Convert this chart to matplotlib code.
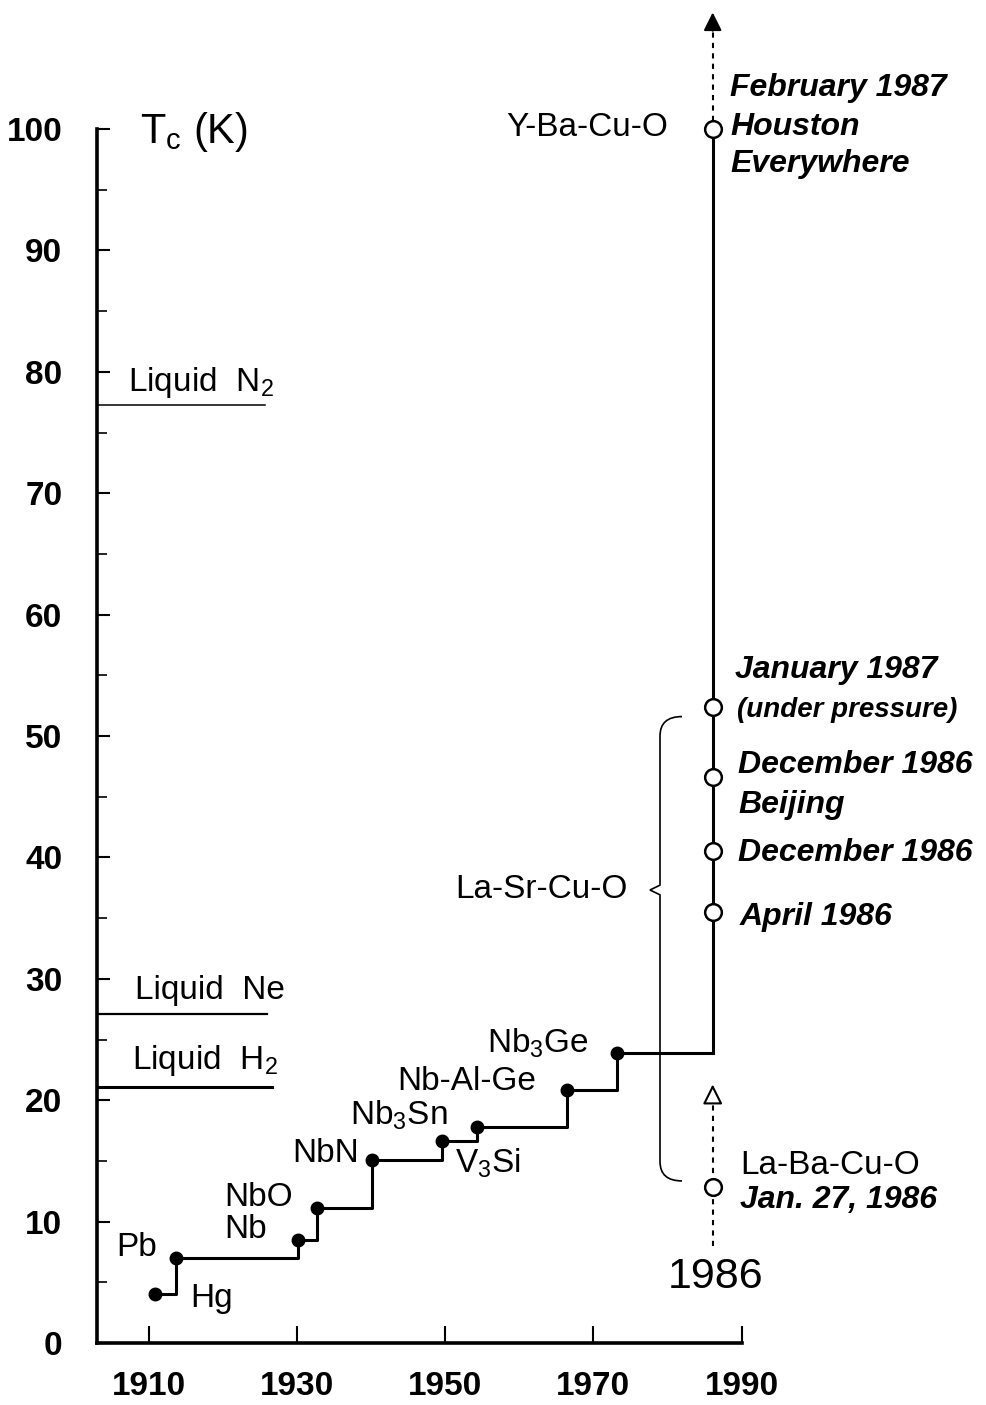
import matplotlib
matplotlib.use("Agg")
import matplotlib.pyplot as plt
from matplotlib.path import Path
from matplotlib.patches import PathPatch
from matplotlib.ticker import FixedLocator

plt.rcParams['font.family'] = ['Liberation Sans', 'DejaVu Sans']
plt.rcParams['mathtext.fontset'] = 'custom'
plt.rcParams['mathtext.rm'] = 'Liberation Sans'
plt.rcParams['mathtext.it'] = 'Liberation Sans:italic'

# ---------------- data ----------------
# conventional superconductors (filled dots, step line)
conv_names = ["Hg", "Pb", "Nb", "NbO", "NbN", "V$_\\mathregular{3}$Si",
              "Nb$_\\mathregular{3}$Sn", "Nb-Al-Ge", "Nb$_\\mathregular{3}$Ge"]
conv_years = [1910.8, 1913.7, 1930.1, 1932.7, 1940.1, 1949.6, 1954.3, 1966.4, 1973.2]
conv_tc = [4.0, 7.0, 8.5, 11.1, 15.1, 16.6, 17.8, 20.8, 23.9]

# cuprates (open circles) all at the 1986/87 line
cup_year = 1986.1
cup_names = ["La-Ba-Cu-O", "April 1986", "December 1986", "December 1986 Beijing",
             "January 1987", "Y-Ba-Cu-O"]
cup_tc = [12.85, 35.5, 40.5, 46.6, 52.4, 100.0]

# cryogenic liquids
liq_names = ["Liquid  N$_\\mathregular{2}$", "Liquid  Ne", "Liquid  H$_\\mathregular{2}$"]
liq_temp = [77.3, 27.1, 21.1]
liq_end_year = [1925.7, 1926.0, 1926.6]

x_ticks = [1910, 1930, 1950, 1970, 1990]
y_ticks = [0, 10, 20, 30, 40, 50, 60, 70, 80, 90, 100]
y_minor = [5, 15, 25, 35, 45, 55, 65, 75, 85, 95]

# ---------------- figure ----------------
W, H = 987, 1405
fig = plt.figure(figsize=(W / 100, H / 100), dpi=100)

# pixel -> data helpers (for placing annotation text)
def X(px):
    return 1910 + (px - 148.8) / 7.41

def Y(py):
    return (1343 - py) / 12.14

x0, x1 = X(97), X(987)
y0, y1 = 0, Y(0)
ax = fig.add_axes([97 / W, (H - 1343) / H, (987 - 97) / W, 1343 / H])
ax.set_xlim(x0, x1)
ax.set_ylim(y0, y1)

for s in ["top", "right"]:
    ax.spines[s].set_visible(False)
ax.spines["left"].set_bounds(0, 100)
ax.spines["bottom"].set_bounds(x0, 1990)
ax.spines["left"].set_linewidth(2.6)
ax.spines["bottom"].set_linewidth(2.6)

ax.set_xticks(x_ticks)
ax.set_yticks(y_ticks)
ax.yaxis.set_minor_locator(FixedLocator(y_minor))
ax.tick_params(axis="x", direction="in", length=12, width=1.5, pad=20, labelsize=24)
ax.tick_params(axis="y", which="major", direction="in", length=9.5, width=1.5, pad=25, labelsize=24)
ax.tick_params(axis="y", which="minor", direction="in", length=7, width=1.2)
ax.tick_params(axis="x", which="minor", bottom=False)
for lab in ax.get_xticklabels() + ax.get_yticklabels():
    lab.set_fontweight("bold")

# step line of record Tc
step_x = conv_years + [cup_year]
step_y = conv_tc + [conv_tc[-1]]
ax.plot(step_x, step_y, drawstyle="steps-post", color="black", lw=2.2, zorder=3)
ax.plot([cup_year, cup_year], [conv_tc[-1], cup_tc[-1]], color="black", lw=2.2, zorder=3)
ax.plot(conv_years, conv_tc, "o", color="black", ms=9, zorder=4)

# cuprate open circles
ax.plot([cup_year] * len(cup_tc), cup_tc, "o", mfc="white", mec="black", mew=1.8, ms=12, zorder=5)

# dashed arrows
arrow_top = 109.6
ax.plot([cup_year, cup_year], [cup_tc[-1] + 0.7, arrow_top - 1.2], color="black", lw=1.5,
        ls=(0, (2.5, 2.5)), zorder=2)
ax.annotate("", xy=(cup_year, arrow_top), xytext=(cup_year, arrow_top - 1.5),
            arrowprops=dict(arrowstyle="-|>,head_length=1.1,head_width=0.55", fc="black",
                            ec="black", lw=1.5, shrinkA=0, shrinkB=0))
lb_bottom, lb_top = 8.0, 21.3
ax.plot([cup_year, cup_year], [lb_bottom, lb_top - 1.2], color="black", lw=1.5,
        ls=(0, (2.5, 2.5)), zorder=2)
ax.annotate("", xy=(cup_year, lb_top), xytext=(cup_year, lb_top - 1.5),
            arrowprops=dict(arrowstyle="-|>,head_length=1.2,head_width=0.6", fc="white",
                            ec="black", lw=1.5, shrinkA=0, shrinkB=0))

FS = 24     # upright labels
FI = 23     # italic labels

# liquid lines
liq_lw = [1.1, 1.6, 2.2]
liq_label_px = [(128, 382), (135, 990), (132, 1060)]
for name, t, xe, lw, (lx, ly) in zip(liq_names, liq_temp, liq_end_year, liq_lw, liq_label_px):
    ax.plot([x0, xe], [t, t], color="black", lw=lw, zorder=2)
    ax.text(X(lx), Y(ly), name, fontsize=FS, ha="left", va="center")

# axis title
ax.text(X(140), Y(132), "T$_\\mathregular{c}$ (K)", fontsize=30, ha="left", va="center")

# conventional labels
conv_label_pos = [
    (190, 1298, "left"),   # Hg
    (157, 1248, "right"),  # Pb
    (224, 1230, "left"),   # Nb
    (224, 1197, "left"),   # NbO
    (292, 1153, "left"),   # NbN
    (455, 1163, "left"),   # V3Si
    (350, 1115, "left"),   # Nb3Sn
    (397, 1082, "left"),   # Nb-Al-Ge
    (487, 1043, "left"),   # Nb3Ge
]
for name, (lx, ly, ha) in zip(conv_names, conv_label_pos):
    ax.text(X(lx), Y(ly), name, fontsize=FS, ha=ha, va="center")

# cuprate labels
ax.text(X(668), Y(127), "Y-Ba-Cu-O", fontsize=FS, ha="right", va="center")
ita = dict(fontsize=FI, fontstyle="italic", fontweight="bold", ha="left", va="center")
ax.text(X(730), Y(88), "February 1987", **ita)
ax.text(X(730), Y(127), "Houston", **ita)
ax.text(X(730), Y(164), "Everywhere", **ita)
ax.text(X(735), Y(670), "January 1987", **ita)
ax.text(X(737), Y(710), "(under pressure)", **dict(ita, fontsize=20))
ax.text(X(738), Y(765), "December 1986", **ita)
ax.text(X(738), Y(805), "Beijing", **ita)
ax.text(X(738), Y(853), "December 1986", **ita)
ax.text(X(740), Y(917), "April 1986", **ita)
ax.text(X(740), Y(1165), "La-Ba-Cu-O", fontsize=FS, ha="left", va="center")
ax.text(X(740), Y(1200), "Jan. 27, 1986", **ita)
ax.text(X(716), Y(1277), "1986", fontsize=31, ha="center", va="center")

# La-Sr-Cu-O brace
ax.text(X(628), Y(890), "La-Sr-Cu-O", fontsize=FS, ha="right", va="center")
b_top = cup_tc[4] - 0.8
b_bot = cup_tc[0] + 0.5
b_mid = Y(890)
xv, xe_, xc = X(660), X(682), X(650)
r = 1.6
verts = [(xe_, b_top), (xv, b_top), (xv, b_top - r),
         (xv, b_mid + 1.0), (xv, b_mid + 0.4), (xc, b_mid),
         (xv, b_mid - 0.4), (xv, b_mid - 1.0),
         (xv, b_bot + r), (xv, b_bot), (xe_, b_bot)]
codes = [Path.MOVETO, Path.CURVE3, Path.CURVE3,
         Path.LINETO, Path.LINETO, Path.LINETO,
         Path.LINETO, Path.LINETO,
         Path.LINETO, Path.CURVE3, Path.CURVE3]
ax.add_patch(PathPatch(Path(verts, codes), fill=False, ec="black", lw=1.2))

fig.savefig("out.png", dpi=100)
